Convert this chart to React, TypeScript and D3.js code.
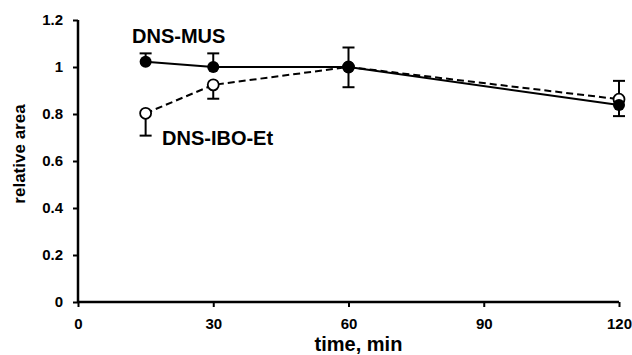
import { useRef, useEffect } from "react";
import * as d3 from "d3";

const times = [15, 30, 60, 120];
const musValues = [1.022, 1.0, 1.0, 0.838];
const musErrUp = [0.036, 0.058, 0.083, 0];
const musErrDown = [0, 0, 0.086, 0.047];
const iboValues = [0.803, 0.924, 1.0, 0.863];
const iboErrUp = [0, 0, 0, 0.078];
const iboErrDown = [0.095, 0.059, 0, 0];
const xTicks = [0, 30, 60, 90, 120];
const yTicks = [0, 0.2, 0.4, 0.6, 0.8, 1, 1.2];

const W = 632;
const H = 355;
const FONT = "'Liberation Sans', Arial, Helvetica, sans-serif";

type Pt = { t: number; v: number; up: number; down: number };

export default function App() {
  const svgRef = useRef<SVGSVGElement>(null);

  useEffect(() => {
    if (!svgRef.current) return;
    const svg = d3.select(svgRef.current);
    svg.selectAll("*").remove();

    const x = d3.scaleLinear().domain([0, 120]).range([78, 619]);
    const y = d3.scaleLinear().domain([0, 1.2]).range([302, 20]);

    const mus: Pt[] = times.map((t, i) => ({ t, v: musValues[i], up: musErrUp[i], down: musErrDown[i] }));
    const ibo: Pt[] = times.map((t, i) => ({ t, v: iboValues[i], up: iboErrUp[i], down: iboErrDown[i] }));

    // Axes
    const yAxis = svg.append("g").attr("transform", `translate(${x(0)},0)`)
      .call(d3.axisLeft(y).tickValues(yTicks).tickSize(5).tickPadding(10)
        .tickFormat(d => (d === 0 || d === 1 ? String(d) : d3.format(".1f")(d as number))));
    const xAxis = svg.append("g").attr("transform", `translate(0,${y(0)})`)
      .call(d3.axisBottom(x).tickValues(xTicks).tickSize(5).tickPadding(11).tickFormat(d3.format("d")));
    [yAxis, xAxis].forEach(a => {
      a.select(".domain").attr("stroke", "#000").attr("stroke-width", 2.5);
      a.selectAll(".tick line").attr("stroke", "#000").attr("stroke-width", 2);
      a.selectAll(".tick text").attr("fill", "#000").attr("font-size", "15px")
        .attr("font-weight", "bold").attr("font-family", FONT);
    });
    yAxis.select(".domain").attr("d", `M0,${y(1.2)}V${y(0)}`);
    xAxis.select(".domain").attr("d", `M${x(0)},0H${x(120)}`);

    // Axis titles
    svg.append("text").attr("transform", `translate(25,${(y(0) + y(1.2)) / 2 - 7}) rotate(-90)`)
      .attr("text-anchor", "middle").attr("font-size", "17px").attr("font-weight", "bold")
      .attr("font-family", FONT).text("relative area");
    svg.append("text").attr("x", (x(0) + x(120)) / 2 + 10).attr("y", 351)
      .attr("text-anchor", "middle").attr("font-size", "20px").attr("font-weight", "bold")
      .attr("font-family", FONT).text("time, min");

    const line = d3.line<Pt>().x(d => x(d.t)).y(d => y(d.v));

    const drawErr = (data: Pt[]) => {
      const g = svg.append("g").attr("stroke", "#000").attr("stroke-width", 2);
      data.forEach(d => {
        const cx = x(d.t);
        const top = y(d.v + d.up);
        const bot = y(d.v - d.down);
        if (d.up > 0) {
          g.append("line").attr("x1", cx).attr("x2", cx).attr("y1", y(d.v)).attr("y2", top);
          g.append("line").attr("x1", cx - 6).attr("x2", cx + 6).attr("y1", top).attr("y2", top);
        }
        if (d.down > 0) {
          g.append("line").attr("x1", cx).attr("x2", cx).attr("y1", y(d.v)).attr("y2", bot);
          g.append("line").attr("x1", cx - 6).attr("x2", cx + 6).attr("y1", bot).attr("y2", bot);
        }
      });
    };

    // DNS-IBO-Et: open circles, dashed line
    drawErr(ibo);
    svg.append("path").datum(ibo).attr("d", line).attr("fill", "none")
      .attr("stroke", "#000").attr("stroke-width", 2).attr("stroke-dasharray", "7,4");
    svg.append("g").selectAll("circle").data(ibo).join("circle")
      .attr("cx", d => x(d.t)).attr("cy", d => y(d.v)).attr("r", 5.5)
      .attr("fill", "#fff").attr("stroke", "#000").attr("stroke-width", 1.8);

    // DNS-MUS: filled circles, solid line
    drawErr(mus);
    svg.append("path").datum(mus).attr("d", line).attr("fill", "none")
      .attr("stroke", "#000").attr("stroke-width", 2);
    svg.append("g").selectAll("circle").data(mus).join("circle")
      .attr("cx", d => x(d.t)).attr("cy", d => y(d.v)).attr("r", 6)
      .attr("fill", "#000");

    // Series labels
    svg.append("text").attr("x", 132).attr("y", 43).attr("font-size", "20px")
      .attr("font-weight", "bold").attr("font-family", FONT).text("DNS-MUS");
    svg.append("text").attr("x", 162).attr("y", 145).attr("font-size", "20px")
      .attr("font-weight", "bold").attr("font-family", FONT).text("DNS-IBO-Et");
  }, []);

  return (
    <div style={{ position: "fixed", left: 0, top: 0, width: W, height: H, background: "#fff" }}>
      <svg ref={svgRef} width={W} height={H} style={{ display: "block" }} />
    </div>
  );
}
